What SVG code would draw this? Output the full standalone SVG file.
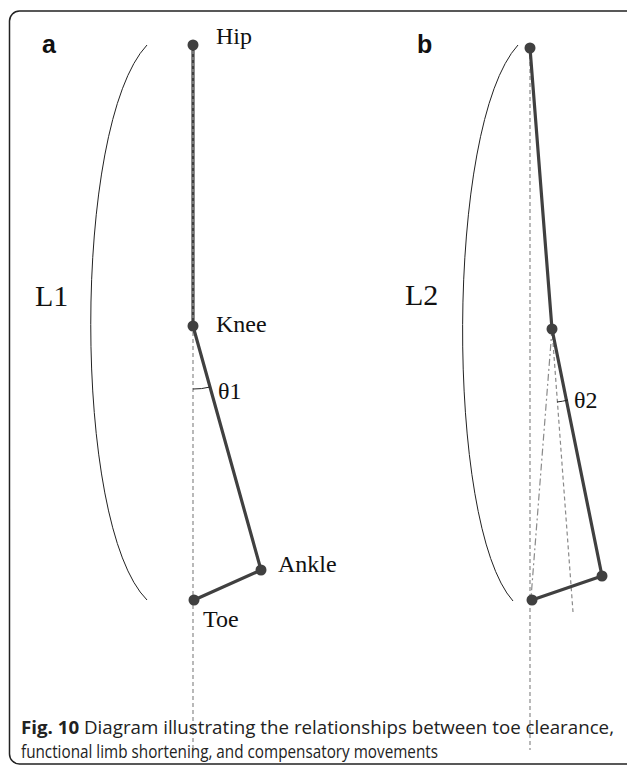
<svg xmlns="http://www.w3.org/2000/svg" width="627" height="766" viewBox="0 0 627 766">
<style>
.frame{fill:none;stroke:#222;stroke-width:1.5}
.seg{stroke:#404040;stroke-width:3.2;fill:none;stroke-linecap:round}
.ref{stroke:#8a8a8a;stroke-width:1.2;stroke-dasharray:4,3;fill:none}
.dd{stroke:#8a8a8a;stroke-width:1.2;stroke-dasharray:7,3,2,3;fill:none}
.bra{stroke:#222;stroke-width:1;fill:none}
.node{fill:#404040}
.lbl{font-family:"Liberation Serif",serif;font-size:24px;fill:#111}
.big{font-family:"Liberation Serif",serif;font-size:30px;fill:#111}
.pan{font-family:"Liberation Sans",Arial,sans-serif;font-size:25px;font-weight:bold;fill:#111}
.cap{font-family:"Open Sans","Liberation Sans",sans-serif;font-size:17.5px;fill:#222}
</style>
<rect class="frame" x="9.5" y="11" width="640" height="753" rx="10"/>
<g id="connectors">
<line class="ref" x1="193" y1="45" x2="193" y2="750"/>
<line class="seg" x1="193" y1="45" x2="193" y2="326"/>
<line x1="193" y1="45" x2="193" y2="326" stroke="#aaa" stroke-width="1" stroke-dasharray="3,3"/>
<line class="seg" x1="193" y1="326" x2="261" y2="570"/>
<line class="seg" x1="261" y1="570" x2="194" y2="600"/>
<path class="bra" d="M147,45 C72,125 72,525 147,600"/>
<path class="bra" d="M193,389 A63,63 0 0 0 210,387"/>
<line class="ref" x1="530" y1="48" x2="530" y2="750"/>
<line class="dd" x1="552" y1="329" x2="531" y2="598"/>
<line class="ref" x1="552" y1="329" x2="573" y2="612"/>
<line class="seg" x1="530" y1="48" x2="552" y2="329"/>
<line class="seg" x1="552" y1="329" x2="602" y2="576"/>
<line class="seg" x1="602" y1="576" x2="532" y2="600"/>
<path class="bra" d="M518,45 C445,125 445,525 513,601"/>
<path class="bra" d="M557,402 A73,73 0 0 0 568,400"/>
</g>
<g id="hip-a"><circle class="node" cx="193" cy="45" r="5.5"/><text class="lbl" x="216" y="44">Hip</text></g>
<g id="knee-a"><circle class="node" cx="193" cy="326" r="5.5"/><text class="lbl" x="216" y="332">Knee</text></g>
<g id="ankle-a"><circle class="node" cx="261" cy="570" r="5.5"/><text class="lbl" x="278" y="572">Ankle</text></g>
<g id="toe-a"><circle class="node" cx="194" cy="600" r="5.5"/><text class="lbl" x="203" y="627">Toe</text></g>
<g id="hip-b"><circle class="node" cx="530" cy="48" r="5.5"/></g>
<g id="knee-b"><circle class="node" cx="552" cy="329" r="5.5"/></g>
<g id="ankle-b"><circle class="node" cx="602" cy="576" r="5.5"/></g>
<g id="toe-b"><circle class="node" cx="532" cy="600" r="5.5"/></g>
<g id="labels">
<text class="pan" x="42" y="53">a</text>
<text class="pan" x="417" y="53">b</text>
<text class="big" x="35" y="306">L1</text>
<text class="big" x="405" y="305">L2</text>
<text class="lbl" x="218" y="399">θ1</text>
<text class="lbl" x="574" y="408">θ2</text>
</g>
<g id="caption">
<text class="cap" x="21" y="734" textLength="593" lengthAdjust="spacingAndGlyphs"><tspan font-weight="bold">Fig. 10</tspan> Diagram illustrating the relationships between toe clearance,</text>
<text class="cap" x="21" y="758" textLength="417" lengthAdjust="spacingAndGlyphs">functional limb shortening, and compensatory movements</text>
</g>
</svg>
